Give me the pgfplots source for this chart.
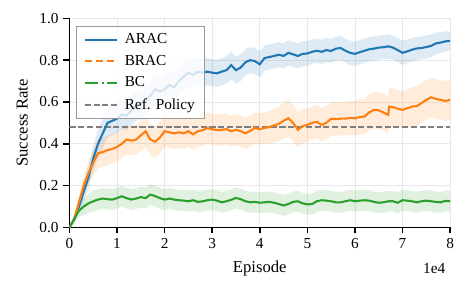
\documentclass[border=0pt]{standalone}
\usepackage{pgfplots}
\pgfplotsset{compat=1.18}
\usepackage{pgfplotstable}
\usepgfplotslibrary{fillbetween}
\usepackage{fontspec}
\setmainfont{Liberation Serif}
\definecolor{tabblue}{HTML}{1F77B4}
\definecolor{taborange}{HTML}{FF7F0E}
\definecolor{tabgreen}{HTML}{2CA02C}
\definecolor{refgray}{HTML}{7F7F7F}
\pgfplotsset{longleg/.style={legend image code/.code={\draw[##1] (0pt,0pt) -- (23pt,0pt);}}}

\pgfplotstableread{
x m s
0.0 0.000 0.000
0.1 0.040 0.015
0.2 0.100 0.030
0.3 0.170 0.045
0.4 0.240 0.055
0.5 0.330 0.060
0.6 0.400 0.070
0.7 0.450 0.070
0.8 0.500 0.070
0.9 0.510 0.070
1.0 0.520 0.070
1.1 0.540 0.070
1.2 0.535 0.070
1.3 0.560 0.070
1.4 0.580 0.070
1.5 0.590 0.070
1.6 0.610 0.070
1.7 0.630 0.070
1.8 0.660 0.070
1.9 0.650 0.070
2.0 0.660 0.070
2.1 0.680 0.070
2.2 0.670 0.070
2.3 0.700 0.070
2.4 0.720 0.070
2.5 0.740 0.068
2.6 0.730 0.066
2.7 0.745 0.065
2.8 0.740 0.065
2.9 0.745 0.065
3.0 0.740 0.065
3.1 0.737 0.065
3.2 0.745 0.065
3.3 0.752 0.065
3.4 0.776 0.065
3.5 0.752 0.065
3.6 0.765 0.065
3.7 0.790 0.063
3.8 0.800 0.062
3.9 0.795 0.062
4.0 0.780 0.062
4.1 0.810 0.060
4.2 0.815 0.060
4.3 0.820 0.060
4.4 0.826 0.060
4.5 0.820 0.060
4.6 0.835 0.060
4.7 0.828 0.060
4.8 0.820 0.060
4.9 0.830 0.060
5.0 0.832 0.060
5.1 0.840 0.058
5.2 0.845 0.058
5.3 0.840 0.058
5.4 0.848 0.058
5.5 0.844 0.058
5.6 0.855 0.058
5.7 0.858 0.058
5.8 0.845 0.058
5.9 0.835 0.058
6.0 0.830 0.058
6.1 0.838 0.058
6.2 0.845 0.058
6.3 0.852 0.058
6.4 0.855 0.058
6.5 0.860 0.058
6.6 0.862 0.058
6.7 0.866 0.058
6.8 0.860 0.058
6.9 0.848 0.058
7.0 0.835 0.058
7.1 0.842 0.056
7.2 0.850 0.056
7.3 0.856 0.055
7.4 0.858 0.055
7.5 0.863 0.055
7.6 0.868 0.054
7.7 0.880 0.052
7.8 0.884 0.050
7.9 0.890 0.048
8.0 0.892 0.046
}\arac

\pgfplotstableread{
x m s
0.0 0.000 0.000
0.1 0.040 0.015
0.2 0.120 0.030
0.3 0.200 0.040
0.4 0.260 0.050
0.5 0.310 0.060
0.6 0.355 0.070
0.7 0.360 0.070
0.8 0.370 0.070
0.9 0.375 0.070
1.0 0.385 0.070
1.1 0.400 0.070
1.2 0.420 0.070
1.3 0.415 0.070
1.4 0.420 0.070
1.5 0.440 0.072
1.6 0.460 0.075
1.7 0.420 0.075
1.8 0.410 0.075
1.9 0.430 0.075
2.0 0.460 0.075
2.1 0.455 0.075
2.2 0.450 0.075
2.3 0.455 0.075
2.4 0.450 0.075
2.5 0.460 0.075
2.6 0.445 0.075
2.7 0.460 0.075
2.8 0.465 0.075
2.9 0.475 0.075
3.0 0.470 0.075
3.1 0.465 0.075
3.2 0.467 0.075
3.3 0.470 0.075
3.4 0.460 0.075
3.5 0.467 0.075
3.6 0.460 0.075
3.7 0.450 0.075
3.8 0.462 0.075
3.9 0.475 0.075
4.0 0.470 0.075
4.1 0.476 0.075
4.2 0.480 0.078
4.3 0.488 0.080
4.4 0.495 0.082
4.5 0.510 0.085
4.6 0.522 0.088
4.7 0.500 0.088
4.8 0.467 0.085
4.9 0.485 0.082
5.0 0.490 0.080
5.1 0.500 0.080
5.2 0.505 0.080
5.3 0.490 0.080
5.4 0.500 0.080
5.5 0.520 0.080
5.6 0.518 0.080
5.7 0.520 0.080
5.8 0.520 0.080
5.9 0.524 0.082
6.0 0.522 0.082
6.1 0.528 0.084
6.2 0.530 0.085
6.3 0.550 0.086
6.4 0.562 0.088
6.5 0.560 0.088
6.6 0.550 0.088
6.7 0.538 0.088
6.72 0.578 0.090
6.8 0.575 0.090
6.9 0.568 0.090
7.0 0.562 0.090
7.1 0.570 0.092
7.2 0.578 0.092
7.3 0.580 0.094
7.4 0.595 0.095
7.5 0.610 0.095
7.6 0.622 0.095
7.7 0.615 0.095
7.8 0.610 0.095
7.9 0.605 0.095
8.0 0.610 0.095
}\brac

\pgfplotstableread{
x m s
0.0 0.000 0.000
0.1 0.040 0.020
0.2 0.080 0.030
0.3 0.100 0.040
0.4 0.115 0.045
0.5 0.125 0.050
0.6 0.133 0.050
0.7 0.138 0.050
0.8 0.135 0.050
0.9 0.133 0.050
1.0 0.140 0.050
1.1 0.149 0.050
1.2 0.140 0.050
1.3 0.133 0.050
1.4 0.138 0.050
1.5 0.145 0.050
1.6 0.140 0.050
1.7 0.157 0.050
1.8 0.150 0.050
1.9 0.140 0.050
2.0 0.133 0.050
2.1 0.138 0.050
2.2 0.133 0.050
2.3 0.130 0.050
2.4 0.128 0.050
2.5 0.125 0.050
2.6 0.130 0.050
2.7 0.122 0.050
2.8 0.125 0.050
2.9 0.130 0.050
3.0 0.133 0.050
3.1 0.128 0.050
3.2 0.120 0.050
3.3 0.125 0.050
3.4 0.132 0.050
3.5 0.141 0.050
3.6 0.135 0.050
3.7 0.125 0.050
3.8 0.120 0.050
3.9 0.122 0.050
4.0 0.118 0.050
4.1 0.120 0.050
4.2 0.122 0.050
4.3 0.118 0.050
4.4 0.112 0.050
4.5 0.105 0.050
4.6 0.112 0.050
4.7 0.122 0.050
4.8 0.125 0.050
4.9 0.115 0.050
5.0 0.110 0.050
5.1 0.112 0.050
5.2 0.125 0.050
5.3 0.130 0.050
5.4 0.128 0.050
5.5 0.125 0.050
5.6 0.120 0.050
5.7 0.120 0.050
5.8 0.125 0.050
5.9 0.130 0.050
6.0 0.125 0.050
6.1 0.128 0.050
6.2 0.130 0.050
6.3 0.128 0.050
6.4 0.122 0.050
6.5 0.118 0.050
6.6 0.120 0.050
6.7 0.125 0.050
6.8 0.125 0.050
6.9 0.118 0.050
7.0 0.130 0.050
7.1 0.128 0.050
7.2 0.125 0.050
7.3 0.120 0.050
7.4 0.125 0.050
7.5 0.128 0.050
7.6 0.125 0.050
7.7 0.122 0.050
7.8 0.120 0.050
7.9 0.127 0.050
8.0 0.125 0.050
}\bc

\begin{document}
\begin{tikzpicture}
\begin{axis}[
  scale only axis,
  clip mode=individual,
  width=274pt, height=150.5pt,
  xmin=0, xmax=8, ymin=0, ymax=1,
  axis x line*=bottom, axis y line*=left,
  axis line style={-, line width=1.25pt, black},
  xtick={0,1,2,3,4,5,6,7,8},
  ytick={0,0.2,0.4,0.6,0.8,1.0},
  yticklabel style={/pgf/number format/.cd, fixed, fixed zerofill, precision=1},
  /pgf/number format/assume math mode=true,
  scaled ticks=false,
  tick align=outside,
  major tick length=4.3pt,
  tick style={line width=1.1pt, black},
  ticklabel style={font=\fontsize{11}{13}\selectfont},
  grid=major,
  major grid style={line width=0.6pt, gray!18},
  xlabel={Episode},
  ylabel={Success Rate},
  label style={font=\fontsize{12}{14}\selectfont},
  xlabel style={at={(axis description cs:0.5,-0.196)}, anchor=center},
  ylabel style={at={(axis description cs:-0.124,0.5)}, anchor=center},
  legend style={at={(axis description cs:0.018,0.963)}, anchor=north west,
    fill=white, fill opacity=0.8, draw opacity=1, text opacity=1,
    draw=gray!80, line width=0.8pt,
    font=\fontsize{11}{13}\selectfont, row sep=2.8pt, column sep=3pt,
    inner xsep=5pt, inner ysep=3pt},
  legend cell align=left,
]
% bands
\addplot[draw=none, name path=Ahi, forget plot] table[x=x, y expr=\thisrow{m}+\thisrow{s}] {\arac};
\addplot[draw=none, name path=Alo, forget plot] table[x=x, y expr=\thisrow{m}-\thisrow{s}] {\arac};
\addplot[fill=tabblue, fill opacity=0.15, draw=none, forget plot] fill between[of=Ahi and Alo];
\addplot[draw=none, name path=Bhi, forget plot] table[x=x, y expr=\thisrow{m}+\thisrow{s}] {\brac};
\addplot[draw=none, name path=Blo, forget plot] table[x=x, y expr=\thisrow{m}-\thisrow{s}] {\brac};
\addplot[fill=taborange, fill opacity=0.15, draw=none, forget plot] fill between[of=Bhi and Blo];
\addplot[draw=none, name path=Chi, forget plot] table[x=x, y expr=\thisrow{m}+\thisrow{s}] {\bc};
\addplot[draw=none, name path=Clo, forget plot] table[x=x, y expr=\thisrow{m}-\thisrow{s}] {\bc};
\addplot[fill=tabgreen, fill opacity=0.15, draw=none, forget plot] fill between[of=Chi and Clo];
% reference
\addplot[refgray, line width=1.1pt, dash pattern=on 4.4pt off 1.9pt, forget plot] coordinates {(0,0.48) (8,0.48)};
% means
\addplot[tabblue, line width=1.5pt, forget plot] table[x=x, y=m] {\arac};
\addplot[taborange, line width=1.5pt, forget plot] table[x=x, y=m] {\brac};
\addplot[tabgreen, line width=1.5pt, forget plot] table[x=x, y=m] {\bc};
% legend
\addlegendimage{longleg, tabblue, line width=1.5pt}
\addlegendentry{ARAC}
\addlegendimage{longleg, taborange, line width=1.5pt, dash pattern=on 5.5pt off 2.4pt}
\addlegendentry{BRAC}
\addlegendimage{longleg, tabgreen, line width=1.5pt, dash pattern=on 9.6pt off 2.4pt on 1.5pt off 2.4pt}
\addlegendentry{BC}
\addlegendimage{longleg, refgray, line width=1.1pt, dash pattern=on 4.4pt off 1.9pt}
\addlegendentry{Ref. Policy}
\node[anchor=east, font=\fontsize{11}{13}\selectfont] at (axis description cs:1,-0.196) {1e4};
\end{axis}
\pgfresetboundingbox
\useasboundingbox (-50pt,-45.9pt) rectangle (286.9pt,163.7pt);
\end{tikzpicture}
\end{document}
